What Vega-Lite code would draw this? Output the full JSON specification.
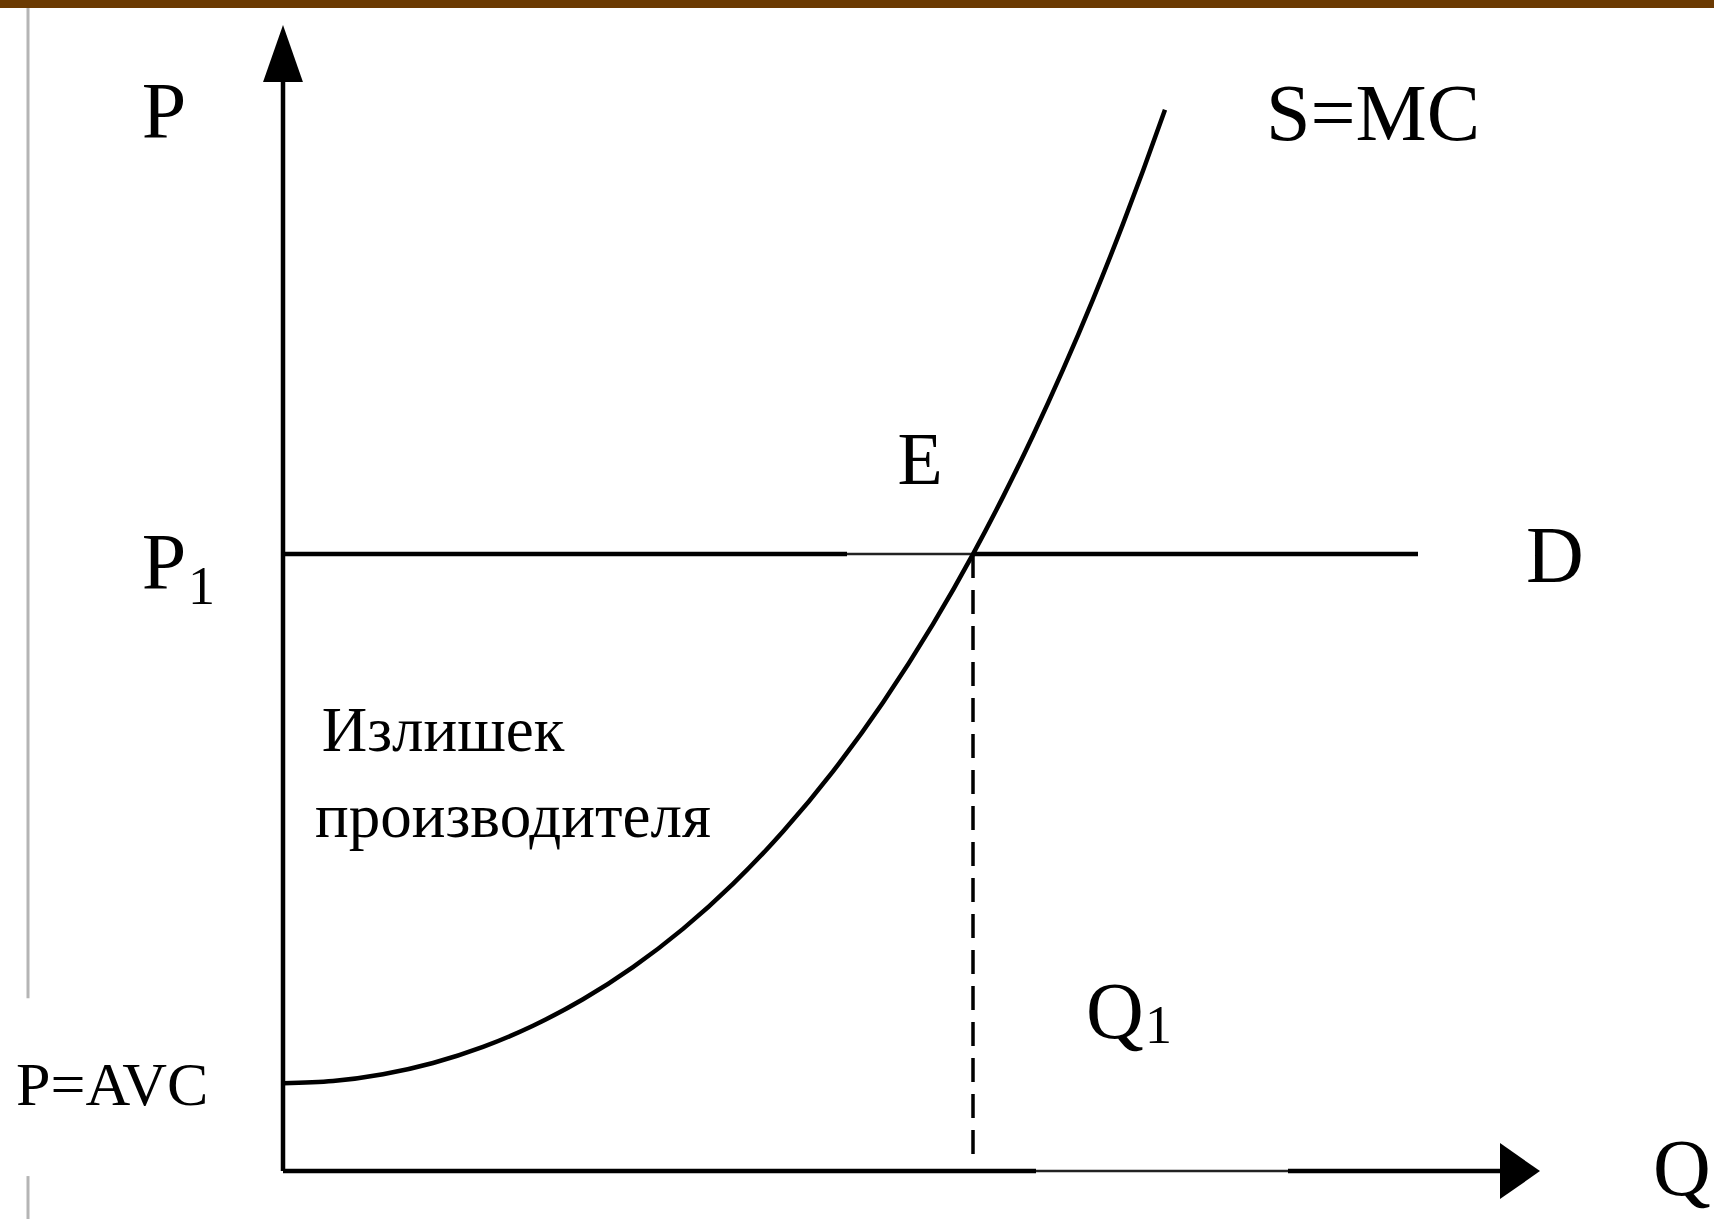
{
  "$schema": "https://vega.github.io/schema/vega-lite/v6.json",
  "autosize": {"type": "fit", "contains": "padding"},
  "width": 1714,
  "height": 1221,
  "padding": 0,
  "background": "white",
  "config": {"view": {"stroke": null}},
  "datasets": {
    "bar": [{"q1": -28.3, "q2": 143.1, "p1": 116.5, "p2": 117.3}],
    "gray": [
      {"q1": -25.5, "p1": 116.5, "q2": -25.5, "p2": 17.3},
      {"q1": -25.5, "p1": -0.5, "q2": -25.5, "p2": -4.8}
    ],
    "thick": [
      {"name": "P axis", "q1": 0, "p1": 0, "q2": 0, "p2": 110},
      {"name": "Q axis a", "q1": 0, "p1": 0, "q2": 75.3, "p2": 0},
      {"name": "Q axis b", "q1": 100.5, "p1": 0, "q2": 122, "p2": 0},
      {"name": "D a", "q1": 0, "p1": 61.8, "q2": 56.4, "p2": 61.8},
      {"name": "D b", "q1": 69.0, "p1": 61.8, "q2": 113.5, "p2": 61.8}
    ],
    "thin": [
      {"name": "Q axis thin", "q1": 75.3, "p1": 0, "q2": 100.5, "p2": 0},
      {"name": "D thin", "q1": 56.4, "p1": 61.8, "q2": 69.0, "p2": 61.8}
    ],
    "dashed": [{"q1": 69.0, "p1": 61.8, "q2": 69.0, "p2": 1.3}],
    "mc": [
      {"q": 0, "p": 8.8},
      {"q": 5, "p": 9.02},
      {"q": 10, "p": 9.7},
      {"q": 15, "p": 10.83},
      {"q": 20, "p": 12.44},
      {"q": 25, "p": 14.56},
      {"q": 30, "p": 17.21},
      {"q": 35, "p": 20.43},
      {"q": 40, "p": 24.26},
      {"q": 45, "p": 28.77},
      {"q": 50, "p": 34.01},
      {"q": 55, "p": 40.04},
      {"q": 60, "p": 46.94},
      {"q": 65, "p": 54.78},
      {"q": 69, "p": 61.8},
      {"q": 72, "p": 67.53},
      {"q": 75, "p": 73.68},
      {"q": 78, "p": 80.27},
      {"q": 81, "p": 87.32},
      {"q": 84, "p": 94.87},
      {"q": 86, "p": 100.19},
      {"q": 88.2, "p": 106.3}
    ],
    "arrows": [
      {"dir": "up", "q": 0, "p": 111.95},
      {"dir": "right", "q": 123.7, "p": 0}
    ],
    "bigLabels": [
      {"label": "P", "q": -11.9, "p": 103.5},
      {"label": "P", "q": -11.9, "p": 58.3},
      {"label": "S=MC", "q": 109.0, "p": 103.3},
      {"label": "D", "q": 127.2, "p": 59.0},
      {"label": "Q", "q": 139.9, "p": -2.4},
      {"label": "Q", "q": 83.2, "p": 13.3}
    ],
    "midLabels": [
      {"label": "E", "q": 63.7, "p": 68.8}
    ],
    "smallLabels": [
      {"label": "Излишек", "q": 16.0, "p": 42.1},
      {"label": "производителя", "q": 23.0, "p": 33.5}
    ],
    "avc": [
      {"label": "P=AVC", "q": -26.7, "p": 6.6}
    ],
    "subs": [
      {"label": "1", "q": -9.5, "p": 56.8},
      {"label": "1", "q": 86.2, "p": 12.8}
    ]
  },
  "encoding": {
    "x": {"type": "quantitative", "scale": {"domain": [-28.3, 143.1], "nice": false, "zero": false}, "axis": null},
    "y": {"type": "quantitative", "scale": {"domain": [-4.8, 117.3], "nice": false, "zero": false}, "axis": null}
  },
  "layer": [
    {
      "data": {"name": "bar"},
      "mark": {"type": "rect", "color": "#6b3a02"},
      "encoding": {
        "x": {"field": "q1", "type": "quantitative"},
        "x2": {"field": "q2"},
        "y": {"field": "p1", "type": "quantitative"},
        "y2": {"field": "p2"}
      }
    },
    {
      "data": {"name": "gray"},
      "mark": {"type": "rule", "color": "#b5b5b5", "strokeWidth": 3},
      "encoding": {
        "x": {"field": "q1", "type": "quantitative"},
        "x2": {"field": "q2"},
        "y": {"field": "p1", "type": "quantitative"},
        "y2": {"field": "p2"}
      }
    },
    {
      "data": {"name": "thick"},
      "mark": {"type": "rule", "color": "black", "strokeWidth": 4.5},
      "encoding": {
        "x": {"field": "q1", "type": "quantitative"},
        "x2": {"field": "q2"},
        "y": {"field": "p1", "type": "quantitative"},
        "y2": {"field": "p2"}
      }
    },
    {
      "data": {"name": "thin"},
      "mark": {"type": "rule", "color": "#222", "strokeWidth": 2.5},
      "encoding": {
        "x": {"field": "q1", "type": "quantitative"},
        "x2": {"field": "q2"},
        "y": {"field": "p1", "type": "quantitative"},
        "y2": {"field": "p2"}
      }
    },
    {
      "data": {"name": "dashed"},
      "mark": {"type": "rule", "color": "black", "strokeWidth": 3.5, "strokeDash": [24, 12]},
      "encoding": {
        "x": {"field": "q1", "type": "quantitative"},
        "x2": {"field": "q2"},
        "y": {"field": "p1", "type": "quantitative"},
        "y2": {"field": "p2"}
      }
    },
    {
      "data": {"name": "mc"},
      "mark": {"type": "line", "color": "black", "strokeWidth": 4.5, "interpolate": "monotone"},
      "encoding": {
        "x": {"field": "q", "type": "quantitative"},
        "y": {"field": "p", "type": "quantitative"}
      }
    },
    {
      "data": {"name": "arrows"},
      "transform": [{"filter": "datum.dir === 'up'"}],
      "mark": {"type": "point", "shape": "M-0.7,1L0.7,1L0,-1Z", "size": 3249, "filled": true, "color": "black", "opacity": 1, "strokeWidth": 0},
      "encoding": {
        "x": {"field": "q", "type": "quantitative"},
        "y": {"field": "p", "type": "quantitative"}
      }
    },
    {
      "data": {"name": "arrows"},
      "transform": [{"filter": "datum.dir === 'right'"}],
      "mark": {"type": "point", "shape": "M-1,-1.4L1,0L-1,1.4Z", "size": 1600, "filled": true, "color": "black", "opacity": 1, "strokeWidth": 0},
      "encoding": {
        "x": {"field": "q", "type": "quantitative"},
        "y": {"field": "p", "type": "quantitative"}
      }
    },
    {
      "data": {"name": "bigLabels"},
      "mark": {"type": "text", "font": "Liberation Serif", "fontSize": 80, "align": "center", "baseline": "alphabetic", "color": "black"},
      "encoding": {
        "x": {"field": "q", "type": "quantitative"},
        "y": {"field": "p", "type": "quantitative"},
        "text": {"field": "label"}
      }
    },
    {
      "data": {"name": "midLabels"},
      "mark": {"type": "text", "font": "Liberation Serif", "fontSize": 74, "align": "center", "baseline": "alphabetic", "color": "black"},
      "encoding": {
        "x": {"field": "q", "type": "quantitative"},
        "y": {"field": "p", "type": "quantitative"},
        "text": {"field": "label"}
      }
    },
    {
      "data": {"name": "smallLabels"},
      "mark": {"type": "text", "font": "Liberation Serif", "fontSize": 63, "align": "center", "baseline": "alphabetic", "color": "black"},
      "encoding": {
        "x": {"field": "q", "type": "quantitative"},
        "y": {"field": "p", "type": "quantitative"},
        "text": {"field": "label"}
      }
    },
    {
      "data": {"name": "avc"},
      "mark": {"type": "text", "font": "Liberation Serif", "fontSize": 62, "align": "left", "baseline": "alphabetic", "color": "black"},
      "encoding": {
        "x": {"field": "q", "type": "quantitative"},
        "y": {"field": "p", "type": "quantitative"},
        "text": {"field": "label"}
      }
    },
    {
      "data": {"name": "subs"},
      "mark": {"type": "text", "font": "Liberation Serif", "fontSize": 54, "align": "left", "baseline": "alphabetic", "color": "black"},
      "encoding": {
        "x": {"field": "q", "type": "quantitative"},
        "y": {"field": "p", "type": "quantitative"},
        "text": {"field": "label"}
      }
    }
  ]
}
